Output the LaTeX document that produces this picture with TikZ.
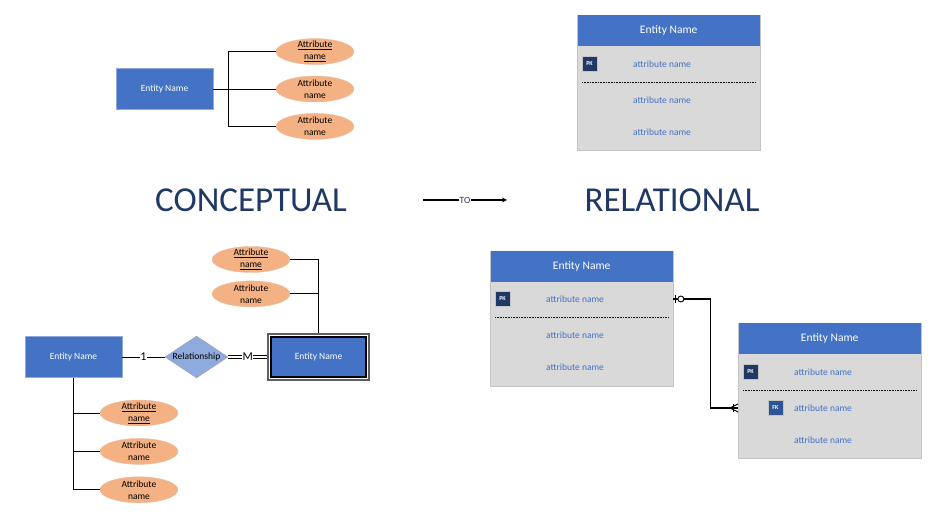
\documentclass[tikz,border=0pt]{standalone}
\usepackage{fontspec}
\setmainfont{Carlito}
\usetikzlibrary{positioning, shapes.geometric, calc, arrows.meta}

\definecolor{entblue}{HTML}{4472C4}
\definecolor{entedge}{HTML}{8FAADC}
\definecolor{navy}{HTML}{203864}
\definecolor{fkblue}{HTML}{2F5597}
\definecolor{attrfill}{HTML}{F4B183}
\definecolor{attredge}{HTML}{E3C4AC}
\definecolor{relfill}{HTML}{8FAADC}
\definecolor{tabgray}{HTML}{D9D9D9}
\definecolor{tabedge}{HTML}{C4C4C4}

\tikzset{
	entity/.style={rectangle, draw=entedge, fill=entblue, text=white, minimum width=97pt, minimum height=41pt, font=\fontsize{9.5}{11}\selectfont},
	weakent/.style={rectangle, draw=black, line width=1.2pt, fill=entblue, text=white, minimum width=95pt, minimum height=40pt, font=\fontsize{9.5}{11}\selectfont},
	attrib/.style={ellipse, draw=attredge, fill=attrfill, minimum width=78pt, minimum height=26pt, inner xsep=0pt, inner ysep=-1.5pt, align=center, font=\fontsize{9.5}{12}\selectfont},
	relation/.style={diamond, draw=gray!70, fill=relfill, minimum width=63pt, minimum height=42pt, inner sep=0pt, font=\fontsize{9.5}{11}\selectfont},
	tbody/.style={rectangle, draw=tabedge, fill=tabgray, minimum width=183pt, minimum height=135pt, anchor=north west, inner sep=0pt},
	thead/.style={rectangle, fill=entblue, text=white, minimum width=182pt, minimum height=31pt, anchor=north, font=\fontsize{11.5}{13}\selectfont},
	attrname/.style={text=entblue, font=\fontsize{9.5}{11}\selectfont},
	keybox/.style={rectangle, draw=tabedge, fill=navy, text=white, minimum size=15pt, inner sep=0pt, font=\fontsize{6}{7}\selectfont\bfseries},
	rowsep/.style={line width=0.7pt, dash pattern=on 1pt off 0.6pt},
	heading/.style={text=navy, font=\fontsize{35}{40}\selectfont},
	card/.style={fill=white, inner sep=0.5pt, font=\fontsize{12}{13}\selectfont}
}

\begin{document}
\begin{tikzpicture}[x=1pt, y=-1pt, link/.style={draw=black, line width=0.9pt}]
	\useasboundingbox (0,0) rectangle (938,518);

	% conceptual entity with its attributes
	\node[entity] (ent) at (164.5,89) {Entity Name};
	\node[attrib] (at2) at (315,89) {Attribute\\name};
	\node[attrib, above=11pt of at2] (at1) {\underline{Attribute}\\\underline{name}};
	\node[attrib, below=11pt of at2] (at3) {Attribute\\name};
	\coordinate (tj) at ($(ent.east)+(15,0)$);
	\draw[link] (ent.east) -- (at2.west);
	\draw[link] (at1.west) -| (tj) |- (at3.west);

	% relational table
	\node[tbody] (rt) at (577,15) {};
	\node[thead] (rth) at (rt.north) {Entity Name};
	\node[keybox] (rtpk) at ($(rt.north west)+(12.5,49)$) {PK};
	\node[attrname] (rt1) at ($(rt.north west)+(85,49)$) {attribute name};
	\draw[rowsep] ($(rt.north west)+(5,67)$) -- ($(rt.north east)+(-5,67)$);
	\node[attrname] (rt2) at ($(rt.north west)+(85,85)$) {attribute name};
	\node[attrname] (rt3) at ($(rt.north west)+(85,117)$) {attribute name};

	% titles
	\node[heading] (concept) at (251,200) {CONCEPTUAL};
	\node[heading] (relat) at (672,200) {RELATIONAL};
	\coordinate (tostart) at (423,200);
	\coordinate (toend) at (507,200);
	\draw[link, line width=1.2pt, -stealth] (tostart) -- node[fill=white, inner sep=1pt, text=navy, font=\fontsize{9.5}{10}\selectfont] {TO} (toend);

	% conceptual relationship
	\node[entity] (own) at (73.5,357) {Entity Name};
	\node[relation] (rel) at (196.5,357) {\makebox[0pt]{Relationship}};
	\node[weakent] (wk) at (318.5,357) {Entity Name};
	\draw[gray!75!black, line width=2pt] ([shift={(-2pt,2pt)}]wk.north west) rectangle ([shift={(2pt,-2pt)}]wk.south east);
	\draw[link] (own.east) -- node[card] {1} (rel.west);
	\draw[black, line width=0.9pt, double=white, double distance=1.4pt] (rel.east) -- node[card] {M} ([xshift=-3pt]wk.west);

	\node[attrib] (wa1) at (251,259.5) {\underline{Attribute}\\\underline{name}};
	\node[attrib, below=8pt of wa1] (wa2) {Attribute\\name};
	\draw[link] (wa1.east) -| ([yshift=3pt]wk.north);
	\draw[link] (wa2.east) -- (wa2.east -| wk.north);

	\node[attrib] (oa1) at (139,413) {\underline{Attribute}\\\underline{name}};
	\node[attrib, below=12pt of oa1] (oa2) {Attribute\\name};
	\node[attrib, below=12pt of oa2] (oa3) {Attribute\\name};
	\draw[link] (own.south) |- (oa3.west);
	\draw[link] (oa1.west) -- (oa1.west -| own.south);
	\draw[link] (oa2.west) -- (oa2.west -| own.south);

	% relational tables with relationship
	\node[tbody] (rb) at (490,251) {};
	\node[thead] (rbh) at (rb.north) {Entity Name};
	\node[keybox] (rbpk) at ($(rb.north west)+(12.5,48)$) {PK};
	\node[attrname] (rb1) at ($(rb.north west)+(85,48)$) {attribute name};
	\draw[rowsep] ($(rb.north west)+(5,66)$) -- ($(rb.north east)+(-5,66)$);
	\node[attrname] (rb2) at ($(rb.north west)+(85,84)$) {attribute name};
	\node[attrname] (rb3) at ($(rb.north west)+(85,116)$) {attribute name};

	\node[tbody] (rc) at (738,323) {};
	\node[thead] (rch) at (rc.north) {Entity Name};
	\node[keybox] (rcpk) at ($(rc.north west)+(12.5,49)$) {PK};
	\node[attrname] (rc1) at ($(rc.north west)+(85,49)$) {attribute name};
	\draw[rowsep] ($(rc.north west)+(5,67)$) -- ($(rc.north east)+(-5,67)$);
	\node[keybox, fill=fkblue] (rcfk) at ($(rc.north west)+(37.5,85)$) {FK};
	\node[attrname] (rc2) at ($(rc.north west)+(85,85)$) {attribute name};
	\node[attrname] (rc3) at ($(rc.north west)+(85,117)$) {attribute name};

	\coordinate (one) at (rb.east |- rbpk);
	\coordinate (many) at (rc.west |- rcfk);
	\draw[link, line width=1.3pt] (one) -- ++(37,0) |- (many);
	\draw[link] ([xshift=2.5pt]one) ++(0,-4) -- ++(0,8);
	\draw[link, fill=white] ([xshift=7.5pt]one) circle (3pt);
	\draw[link] ([xshift=-4.5pt]many) ++(0,-4) -- ++(0,8);
	\draw[link] ([xshift=-8pt]many) -- ([yshift=4pt]many) ([xshift=-8pt]many) -- ([yshift=-4pt]many);
\end{tikzpicture}
\end{document}
